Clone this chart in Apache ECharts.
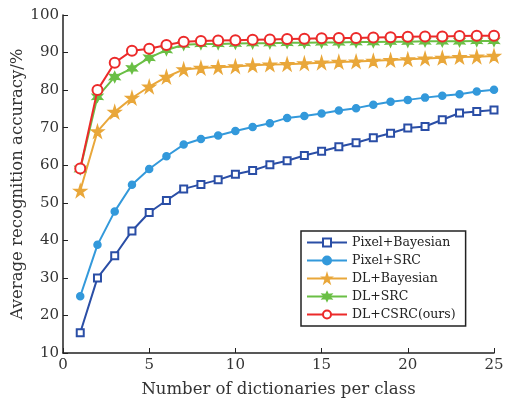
<!DOCTYPE html>
<html>
<head>
<meta charset="utf-8">
<script src="https://cdn.jsdelivr.net/npm/echarts@6/dist/echarts.min.js"></script>
<style>
  html, body { margin: 0; padding: 0; background: #fff; }
  #chart { width: 505px; height: 408px; }
</style>
</head>
<body>
<div id="chart"></div>
<script>
// number of dictionaries per class
const dicts = [1, 2, 3, 4, 5, 6, 7, 8, 9, 10, 11, 12, 13, 14, 15, 16, 17, 18, 19, 20, 21, 22, 23, 24, 25]
const seriesNames = ['Pixel+Bayesian', 'Pixel+SRC', 'DL+Bayesian', 'DL+SRC', 'DL+CSRC(ours)']
const pixelBayesian = [15.4, 30, 35.9, 42.5, 47.4, 50.6, 53.7, 54.9, 56.1, 57.6, 58.6, 60.1, 61.2, 62.6, 63.7, 64.9, 66.0, 67.3, 68.5, 69.9, 70.3, 72.1, 73.9, 74.3, 74.7]
const pixelSRC = [25.1, 38.8, 47.7, 54.8, 59, 62.4, 65.5, 67, 67.9, 69.1, 70.2, 71.2, 72.6, 73.1, 73.8, 74.6, 75.2, 76.1, 76.9, 77.4, 78.0, 78.5, 78.9, 79.6, 80.1]
const dlBayesian = [53.2, 69, 74.2, 77.9, 80.9, 83.5, 85.5, 85.9, 86.1, 86.3, 86.6, 86.8, 86.9, 87.1, 87.3, 87.5, 87.6, 87.8, 88.0, 88.2, 88.4, 88.6, 88.8, 88.9, 89.1]
const dlSRC = [59, 78.2, 83.5, 85.8, 88.6, 90.7, 92.1, 92.3, 92.3, 92.4, 92.5, 92.5, 92.6, 92.6, 92.7, 92.7, 92.8, 92.8, 92.9, 92.9, 93.0, 93.0, 93.0, 93.1, 93.1]
const dlCSRC = [59.1, 80, 87.3, 90.5, 91, 92, 92.9, 93.1, 93.2, 93.3, 93.4, 93.5, 93.6, 93.7, 93.8, 93.9, 93.9, 94.0, 94.1, 94.2, 94.3, 94.3, 94.4, 94.5, 94.5]
const xTicks = [0, 5, 10, 15, 20, 25]

const colors = ['#2a4ea6', '#3399db', '#e9a73a', '#6abf45', '#ec2a2a']
const star5 = 'path://M50,0 L61,35 L98,35 L68,57 L79,91 L50,70 L21,91 L32,57 L2,35 L39,35 Z'
const star6 = 'path://M50,0 L62,29 L93,25 L75,50 L93,75 L62,71 L50,100 L38,71 L7,75 L25,50 L7,25 L38,29 Z'
const symbols = ['emptyRect', 'circle', star5, star6, 'emptyCircle']
const symbolSizes = [7, 7, 12, 10, 10]
const allValues = [pixelBayesian, pixelSRC, dlBayesian, dlSRC, dlCSRC]

const chartInstance = echarts.init(document.getElementById('chart'))
const serif = 'DejaVu Serif'

const option = {
  animation: false,
  grid: { left: 63, right: 11, top: 15, bottom: 55, outerBoundsMode: 'none', containLabel: false },
  legend: {
    orient: 'vertical',
    left: 301,
    top: 231,
    width: 163,
    padding: [5, 10, 5, 5],
    borderColor: '#222',
    borderWidth: 1.5,
    backgroundColor: '#fff',
    itemWidth: 40,
    itemHeight: 10,
    itemGap: 5,
    textStyle: { fontFamily: serif, fontSize: 12.5, color: '#222' },
    data: seriesNames
  },
  xAxis: {
    type: 'value',
    min: 0,
    max: 25,
    interval: 5,
    name: 'Number of dictionaries per class',
    nameLocation: 'middle',
    nameGap: 28,
    nameTextStyle: { fontFamily: serif, fontSize: 16.5, color: '#333' },
    axisLine: { lineStyle: { color: '#222', width: 1.5 } },
    axisTick: { inside: true, length: 5, lineStyle: { color: '#222' } },
    axisLabel: {
      fontFamily: serif, fontSize: 15, color: '#333', margin: 5,
      formatter: v => xTicks.includes(v) ? String(v) : ''
    },
    splitLine: { show: false }
  },
  yAxis: {
    type: 'value',
    min: 10,
    max: 100,
    interval: 10,
    name: 'Average recognition accuracy/%',
    nameLocation: 'middle',
    nameGap: 37,
    nameMoveOverlap: false,
    nameTextStyle: { fontFamily: serif, fontSize: 16.5, color: '#333' },
    axisLine: { lineStyle: { color: '#222', width: 1.5 } },
    axisTick: { inside: true, length: 5, lineStyle: { color: '#222' } },
    axisLabel: { fontFamily: serif, fontSize: 15, color: '#333', margin: 4 },
    splitLine: { show: false }
  },
  series: seriesNames.map((name, i) => ({
    name: name,
    type: 'line',
    data: dicts.map((d, j) => [d, allValues[i][j]]),
    symbol: symbols[i],
    symbolSize: symbolSizes[i],
    showAllSymbol: true,
    color: colors[i],
    lineStyle: { width: 2, color: colors[i] },
    itemStyle: { color: colors[i], borderColor: colors[i], borderWidth: 1.5 },
    z: 2 + i
  }))
}
chartInstance.setOption(option)
</script>
</body>
</html>
